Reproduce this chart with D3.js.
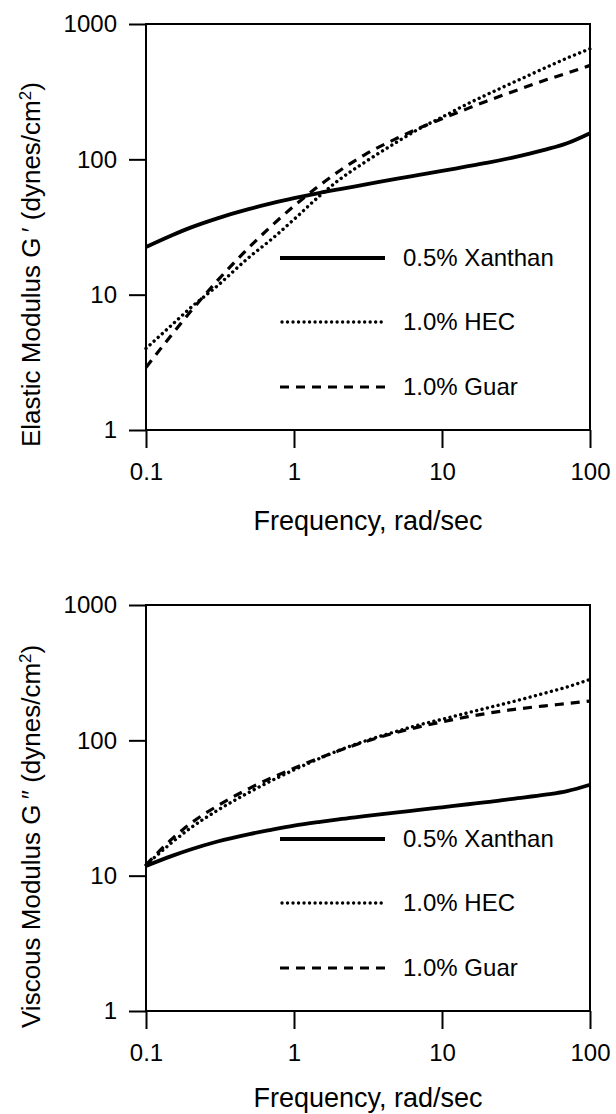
<!DOCTYPE html>
<html>
<head>
<meta charset="utf-8">
<script src="https://cdn.jsdelivr.net/npm/d3@7"></script>
<style>
  body { margin: 0; background: #fff; }
  svg text { font-family: "Liberation Sans", Arial, Helvetica, sans-serif; fill: #000; }
</style>
</head>
<body>
<svg id="chart"></svg>
<script>
// frequencies (rad/sec) at which the curves were read
const freq = [0.1, 0.15, 0.2, 0.3, 0.5, 0.7, 1, 1.5, 2, 3, 5, 7, 10, 15, 20, 30, 50, 70, 100];

// elastic modulus G' (dynes/cm2)
const elasticXanthan = [22.5, 27.5, 31.3, 36.5, 43, 47.2, 51.6, 56.6, 60, 65, 72, 76.7, 82, 89, 94, 103, 118, 131.5, 156];
const elasticHEC     = [4.0, 6.0, 8.0, 11.5, 19, 25.5, 36, 54, 70, 95, 135, 168, 205, 258, 300, 368, 475, 560, 655];
const elasticGuar    = [2.9, 5.1, 7.5, 12.5, 22.5, 32, 45.2, 64.6, 81.3, 108, 143.6, 170, 199.5, 238, 269, 316, 385, 434, 494];

// viscous modulus G" (dynes/cm2)
const viscousXanthan = [11.8, 14.0, 15.6, 17.8, 20.3, 21.8, 23.4, 25.0, 26.1, 27.5, 29.4, 30.6, 32.0, 33.7, 34.9, 37.0, 39.7, 42.2, 47];
const viscousHEC     = [12, 17.6, 22.5, 30.1, 41.4, 50.1, 60.5, 73.8, 84, 98.6, 117, 130, 143, 160, 173, 193, 224, 248, 282];
const viscousGuar    = [12, 18.7, 24.3, 32.5, 44.2, 52.6, 62.2, 74.3, 83.6, 97.5, 114.8, 125.7, 136.8, 149.6, 158, 168.7, 180, 187, 195];

const seriesNames = ['0.5% Xanthan', '1.0% HEC', '1.0% Guar'];
const xTicks = [0.1, 1, 10, 100];
const yTicks = [1, 10, 100, 1000];
const xTitle = 'Frequency, rad/sec';

const W = 616, H = 1114;
const svg = d3.select('#chart').attr('width', W).attr('height', H);

// line look per series: solid, dotted, dashed
const styles = {
  '0.5% Xanthan': { width: 3.8, dash: null, cap: 'butt' },
  '1.0% HEC':     { width: 3.4, dash: '0.01,5.5', cap: 'round' },
  '1.0% Guar':    { width: 3.2, dash: '9,7', cap: 'butt' }
};

function drawPanel(top, titleGap, yLabelMain, prime, values) {
  const margin = { left: 146, top: top };
  const width = 444, height = 406;

  const g = svg.append('g').attr('transform', `translate(${margin.left},${margin.top})`);

  const x = d3.scaleLog().domain([0.1, 100]).range([0, width]);
  const y = d3.scaleLog().domain([1, 1000]).range([height, 0]);

  // y axis ticks + labels
  const yAxis = g.append('g')
    .call(d3.axisLeft(y).tickValues(yTicks).tickFormat(d => d).tickSize(17).tickPadding(12));
  yAxis.select('.domain').remove();
  yAxis.selectAll('line').attr('stroke', '#000').attr('stroke-width', 2);
  yAxis.selectAll('text').style('font-size', '24px').attr('fill', '#000');

  // x axis ticks + labels
  const xAxis = g.append('g')
    .attr('transform', `translate(0,${height})`)
    .call(d3.axisBottom(x).tickValues(xTicks).tickFormat(d => d).tickSize(18).tickPadding(15));
  xAxis.select('.domain').remove();
  xAxis.selectAll('line').attr('stroke', '#000').attr('stroke-width', 2);
  xAxis.selectAll('text').style('font-size', '24px').attr('fill', '#000');

  // frame
  g.append('rect')
    .attr('x', 0).attr('y', 0)
    .attr('width', width).attr('height', height)
    .attr('fill', 'none').attr('stroke', '#000').attr('stroke-width', 2);

  const line = d3.line()
    .x(d => x(d[0]))
    .y(d => y(d[1]))
    .curve(d3.curveMonotoneX);

  seriesNames.forEach((name, i) => {
    const st = styles[name];
    const pts = freq.map((f, j) => [f, values[i][j]]);
    g.append('path')
      .datum(pts)
      .attr('d', line)
      .attr('fill', 'none')
      .attr('stroke', '#000')
      .attr('stroke-width', st.width)
      .attr('stroke-linecap', st.cap)
      .attr('stroke-dasharray', st.dash);
  });

  // legend
  const legendY = [234, 298, 363];
  seriesNames.forEach((name, i) => {
    const st = styles[name];
    const lg = g.append('g').attr('transform', `translate(134,${legendY[i]})`);
    lg.append('line')
      .attr('x1', name === '1.0% HEC' ? 2 : 0).attr('x2', 105)
      .attr('stroke', '#000')
      .attr('stroke-width', st.width)
      .attr('stroke-linecap', st.cap)
      .attr('stroke-dasharray', st.dash);
    lg.append('text')
      .attr('x', 123)
      .attr('dy', '0.35em')
      .style('font-size', '24px')
      .text(name);
  });

  // x title
  g.append('text')
    .attr('x', width / 2)
    .attr('y', height + titleGap)
    .attr('text-anchor', 'middle')
    .style('font-size', '27px')
    .text(xTitle);

  // y title
  const yt = g.append('text')
    .attr('transform', 'rotate(-90)')
    .attr('x', -(height + 17))
    .attr('y', -106)
    .style('font-size', '26px');
  yt.append('tspan').text(yLabelMain + ' G' + prime + ' (dynes/cm');
  yt.append('tspan').attr('dy', -9).style('font-size', '17px').text('2');
  yt.append('tspan').attr('dy', 9).text(')');
}

drawPanel(24, 100, 'Elastic Modulus', '\u2009\u2032', [elasticXanthan, elasticHEC, elasticGuar]);
drawPanel(605, 96, 'Viscous Modulus', '\u2009\u2033', [viscousXanthan, viscousHEC, viscousGuar]);
</script>
</body>
</html>
